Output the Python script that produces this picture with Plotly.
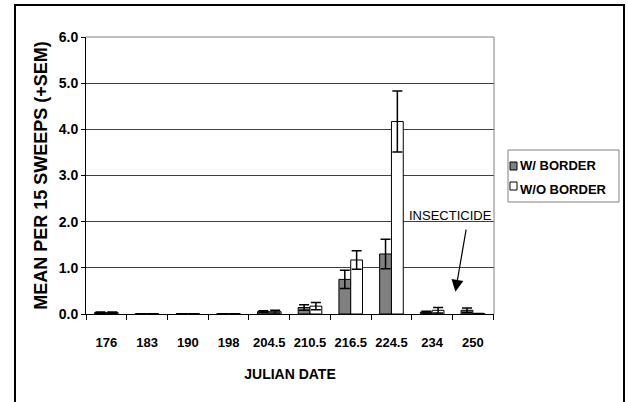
import plotly.graph_objects as go

dates = ["176", "183", "190", "198", "204.5", "210.5", "216.5", "224.5", "234", "250"]
w_border = [0.03, 0.005, 0.005, 0.005, 0.05, 0.14, 0.75, 1.30, 0.04, 0.08]
w_border_sem = [0.015, 0, 0, 0, 0.02, 0.06, 0.20, 0.32, 0.02, 0.05]
wo_border = [0.03, 0.005, 0.005, 0.005, 0.05, 0.17, 1.17, 4.17, 0.08, 0.01]
wo_border_sem = [0.015, 0, 0, 0, 0.03, 0.08, 0.20, 0.66, 0.06, 0]
series_names = ["W/ BORDER", "W/O BORDER"]
y_ticks = [0, 1, 2, 3, 4, 5, 6]

FONT = "Liberation Sans"
GREY = "#808080"

fig = go.Figure()
fig.add_trace(go.Bar(
    x=dates, y=w_border, name=series_names[0],
    marker=dict(color=GREY, line=dict(color="black", width=1)),
    error_y=dict(type="data", array=w_border_sem, symmetric=True,
                 color="black", thickness=1.5, width=5),
    showlegend=False,
))
fig.add_trace(go.Bar(
    x=dates, y=wo_border, name=series_names[1],
    marker=dict(color="white", line=dict(color="black", width=1)),
    error_y=dict(type="data", array=wo_border_sem, symmetric=True,
                 color="black", thickness=1.5, width=5),
    showlegend=False,
))

L, R, T, B = 86, 134, 37, 88
W = 628 - L - R
H = 402 - T - B

def px(xp):
    return (xp - L) / W

def py(yp):
    return (402 - B - yp) / H

shapes = [
    # outer frame
    dict(type="rect", xref="paper", yref="paper", x0=px(15), x1=px(624), y0=py(410), y1=py(5),
         line=dict(color="black", width=2), fillcolor="rgba(0,0,0,0)", layer="below"),
    # right border of plot area
    dict(type="line", xref="paper", yref="paper", x0=1, x1=1, y0=0, y1=1,
         line=dict(color=GREY, width=1)),
    # top border of plot area (grey)
    dict(type="line", xref="paper", yref="paper", x0=0, x1=1, y0=1, y1=1,
         line=dict(color=GREY, width=1)),
    # legend box
    dict(type="rect", xref="paper", yref="paper", x0=px(508), x1=px(619), y0=py(202), y1=py(150),
         line=dict(color=GREY, width=1), fillcolor="white"),
    # legend swatches
    dict(type="rect", xref="paper", yref="paper", x0=px(510), x1=px(517), y0=py(170), y1=py(162),
         line=dict(color="black", width=1), fillcolor=GREY),
    dict(type="rect", xref="paper", yref="paper", x0=px(510), x1=px(517), y0=py(190), y1=py(182),
         line=dict(color="black", width=1), fillcolor="white"),
]

annotations = [
    dict(xref="paper", yref="paper", x=px(518), y=py(165), text=series_names[0],
         showarrow=False, xanchor="left", yanchor="middle",
         font=dict(family=FONT, size=13, color="black", weight="bold")),
    dict(xref="paper", yref="paper", x=px(518), y=py(189), text=series_names[1],
         showarrow=False, xanchor="left", yanchor="middle",
         font=dict(family=FONT, size=13, color="black", weight="bold")),
    dict(xref="x", yref="y", x=8.45, y=2.14, text="INSECTICIDE", showarrow=False,
         xanchor="center", yanchor="middle",
         font=dict(family=FONT, size=13, color="black")),
    dict(xref="x", yref="y", x=8.57, y=0.48, ax=8.84, ay=1.86, axref="x", ayref="y",
         text="", showarrow=True, arrowhead=2, arrowsize=2, arrowwidth=1.2,
         arrowcolor="black"),
]

fig.update_layout(
    width=628, height=402,
    margin=dict(l=L, r=R, t=T, b=B, pad=0),
    paper_bgcolor="white", plot_bgcolor="white",
    barmode="group", bargap=0.42, bargroupgap=0,
    shapes=shapes, annotations=annotations,
    font=dict(family=FONT, color="black"),
)
fig.update_xaxes(
    type="category", showline=True, linecolor="black", linewidth=1,
    ticks="outside", tickson="boundaries", ticklen=5, tickcolor="black",
    tickangle=0,
    tickfont=dict(family=FONT, size=13, color="black", weight="bold"),
    ticklabelstandoff=16,
    showgrid=False,
    title=dict(text="JULIAN DATE", standoff=20,
               font=dict(family=FONT, size=14, color="black", weight="bold")),
)
fig.update_yaxes(
    range=[0, 6], tickvals=y_ticks, tickformat=".1f",
    showline=True, linecolor="black", linewidth=1,
    ticks="outside", ticklen=4, tickcolor="black",
    tickfont=dict(family=FONT, size=14, color="black", weight="bold"),
    showgrid=True, gridcolor="#404040", gridwidth=1, zeroline=False,
    title=dict(text="MEAN PER 15 SWEEPS (+SEM)", standoff=6,
               font=dict(family=FONT, size=18, color="black", weight="bold")),
)

fig.write_html("out.html")
